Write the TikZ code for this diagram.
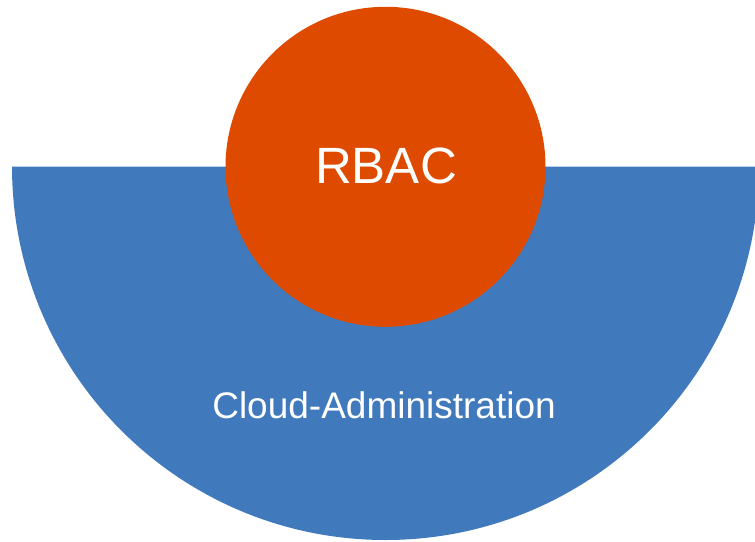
\documentclass[tikz,border=0pt]{standalone}
\usepackage{fontspec}
\setmainfont{Liberation Sans}
\definecolor{adminblue}{RGB}{65,121,189}
\definecolor{rbacorange}{RGB}{221,74,0}

\begin{document}
\begin{tikzpicture}[x=1pt,y=-1pt]
    % Page frame
    \useasboundingbox (0,0) rectangle (755,541);

    % Cloud-Administration half disk
    \begin{scope}
        \clip (0,0) rectangle (755,541);
        \fill[adminblue] (12,166.5) -- (759,166.5) arc[start angle=0, end angle=180, radius=373.5] -- cycle;
    \end{scope}
    \node[text=white, font=\fontsize{37}{41}\selectfont] (admin) at (384,405) {Cloud-Administration};

    % RBAC circle
    \fill[rbacorange] (385.5,166.8) circle (160);
    \node[text=white, font=\fontsize{51}{57}\selectfont] (rbac) at (386,166) {RBAC};
\end{tikzpicture}
\end{document}
